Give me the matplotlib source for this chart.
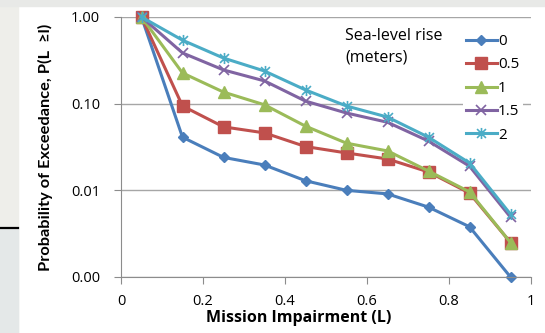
from matplotlib import pyplot as plt
from matplotlib.patches import Rectangle
from matplotlib.lines import Line2D
from matplotlib.path import Path
from matplotlib.ticker import FixedLocator, FormatStrFormatter, NullLocator

plt.rcParams['font.family'] = ['Open Sans', 'DejaVu Sans']

# mission impairment bins
impairment = [0.05, 0.15, 0.25, 0.35, 0.45, 0.55, 0.65, 0.75, 0.85, 0.95]

# exceedance probability for each sea-level rise scenario
slr_labels = ['0', '0.5', '1', '1.5', '2']
p_0 = [1.0, 0.041, 0.024, 0.0196, 0.0129, 0.0100, 0.0091, 0.0064, 0.0038, 0.001]
p_05 = [1.0, 0.094, 0.054, 0.046, 0.032, 0.027, 0.023, 0.0163, 0.0093, 0.0025]
p_1 = [1.0, 0.226, 0.136, 0.097, 0.055, 0.035, 0.0285, 0.0167, 0.0096, 0.0025]
p_15 = [1.0, 0.385, 0.245, 0.183, 0.107, 0.078, 0.061, 0.037, 0.019, 0.0049]
p_2 = [1.0, 0.54, 0.336, 0.238, 0.144, 0.094, 0.070, 0.041, 0.0207, 0.0053]

y_ticks = [1.0, 0.1, 0.01, 0.001]
x_ticks = [0, 0.2, 0.4, 0.6, 0.8, 1]
x_ticklabels = ['0', '0.2', '0.4', '0.6', '0.8', '1']

# excel style star marker: an x with a vertical bar through it
star = Path([(-1, -1), (1, 1), (-1, 1), (1, -1), (0, -1.25), (0, 1.25)],
            [Path.MOVETO, Path.LINETO, Path.MOVETO, Path.LINETO, Path.MOVETO, Path.LINETO])

styles = [
    dict(color='#4a7ebb', marker='D', ms=5.5),
    dict(color='#c0504d', marker='s', ms=8),
    dict(color='#9bbb59', marker='^', ms=8),
    dict(color='#8064a2', marker='x', ms=7, mew=1.2),
    dict(color='#4bacc6', marker=star, ms=8, mew=1.2),
]

W, H = 545, 333
fig = plt.figure(figsize=(W / 100, H / 100), dpi=100, facecolor='white')

# slide background around the chart
fig.patches.append(Rectangle((0, 0), 18 / W, 1, transform=fig.transFigure,
                             color='#eeeeea', zorder=0))
fig.patches.append(Rectangle((0, 0), 18 / W, (H - 229) / H, transform=fig.transFigure,
                             color='#e4e8e8', zorder=0))
fig.patches.append(Rectangle((0, (H - 6) / H), 1, 6 / H, transform=fig.transFigure,
                             color='#e8e9e7', zorder=0))
fig.lines.append(Line2D([0, 18 / W], [(H - 228) / H] * 2, transform=fig.transFigure,
                        color='black', lw=1.6))

ax = fig.add_axes([121 / W, (H - 277) / H, (531 - 121) / W, (277 - 17) / H])

series = [p_0, p_05, p_1, p_15, p_2]
for vals, lab, st in zip(series, slr_labels, styles):
    ax.plot(impairment, vals, lw=2.2, label=lab, clip_on=False, **st)

ax.set_yscale('log')
ax.set_ylim(0.001, 1)
ax.set_xlim(0, 1)
ax.yaxis.set_major_locator(FixedLocator(y_ticks))
ax.yaxis.set_major_formatter(FormatStrFormatter('%.2f'))
ax.yaxis.set_minor_locator(NullLocator())
ax.set_xticks(x_ticks)
ax.set_xticklabels(x_ticklabels)

ax.grid(axis='y', color='#a6a6a6', lw=1)
ax.set_axisbelow(True)
for s in ['top', 'right']:
    ax.spines[s].set_visible(False)
for s in ['left', 'bottom']:
    ax.spines[s].set_color('#8c8c8c')
ax.tick_params(axis='both', colors='#8c8c8c', labelcolor='black', labelsize=10.5,
               length=5, direction='out')
ax.tick_params(axis='x', pad=7)
ax.tick_params(axis='y', pad=10)

fig.text(299 / W, (H - 318) / H, 'Mission Impairment (L)', fontsize=11.5,
         fontweight='bold', ha='center', va='center')
ax.set_ylabel('Probability of Exceedance, P(L  \u2265l)', fontsize=11.8, fontweight='bold',
              family=['Lato', 'DejaVu Sans'], labelpad=13)

fig.text(345 / W, (H - 28) / H, 'Sea-level rise\n(meters)', fontsize=11.5,
         va='top', ha='left', linespacing=1.45)
leg = ax.legend(loc='upper left', bbox_to_anchor=(463 / W, (H - 31) / H),
                bbox_transform=fig.transFigure, frameon=True,
                fontsize=11, handlelength=2.0, handletextpad=0.1,
                labelspacing=0.55, borderpad=0.2, borderaxespad=0)
leg.get_frame().set_edgecolor('none')
leg.get_frame().set_facecolor('white')
leg.get_frame().set_alpha(1)

fig.savefig('out.png', dpi=100)
